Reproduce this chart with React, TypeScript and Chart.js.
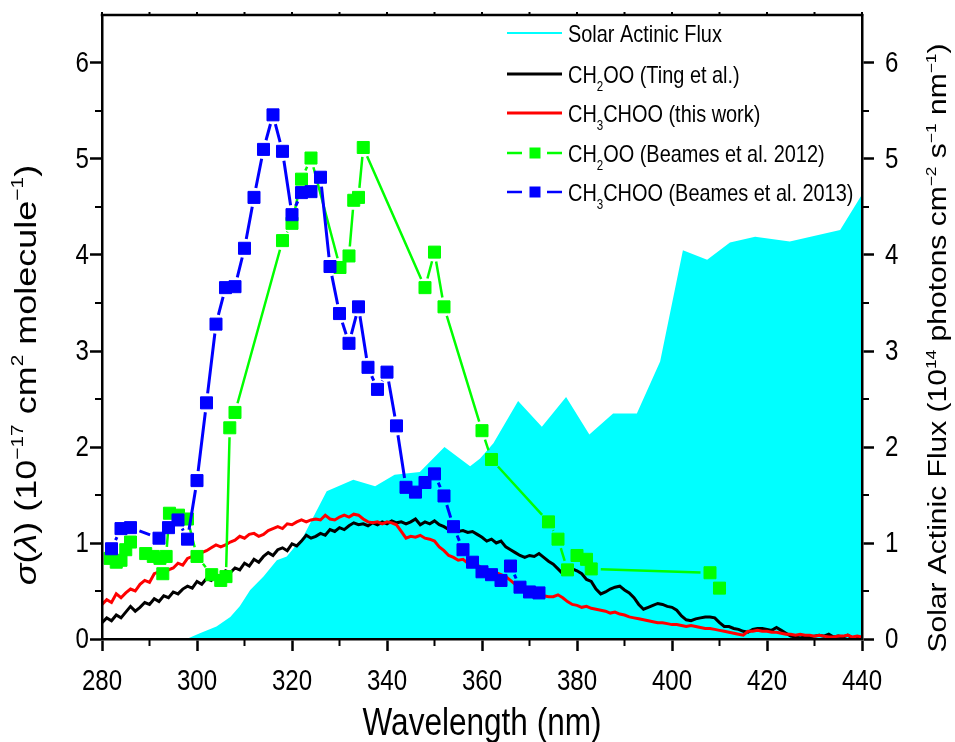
import { useEffect, useRef } from 'react';
import { Chart, registerables } from 'chart.js';

Chart.register(...registerables);

const FONT = '"Liberation Sans", Arial, Helvetica, sans-serif';
const SQUEEZE = 0.83; // horizontal condensing applied to every text run

// ---- axes ----
const xTicks = [280, 300, 320, 340, 360, 380, 400, 420, 440];
const xMinorTicks = [290, 310, 330, 350, 370, 390, 410, 430];
const yTicks = [0, 1, 2, 3, 4, 5, 6];
const yMinorTicks = [0.5, 1.5, 2.5, 3.5, 4.5, 5.5];

// ---- 1 nm spectra, 280–440 nm ----
const spectrumStart = 280;
const spectrumStep = 1;

// CH2OO cross section (Ting et al.)
const tingSigma = [
  0.17, 0.22, 0.19, 0.25, 0.22, 0.28, 0.34, 0.29, 0.33, 0.38,
  0.36, 0.42, 0.39, 0.45, 0.43, 0.49, 0.47, 0.52, 0.55, 0.53,
  0.60, 0.57, 0.63, 0.61, 0.67, 0.65, 0.71, 0.69, 0.74, 0.72,
  0.79, 0.76, 0.83, 0.80, 0.86, 0.90, 0.87, 0.93, 0.95, 0.92,
  0.99, 0.97, 1.02, 1.08, 1.05, 1.07, 1.10, 1.08, 1.14, 1.12,
  1.16, 1.14, 1.18, 1.21, 1.19, 1.20, 1.18, 1.21, 1.19, 1.22,
  1.20, 1.23, 1.21, 1.22, 1.20, 1.22, 1.25, 1.19, 1.22, 1.20,
  1.23, 1.19, 1.17, 1.14, 1.16, 1.12, 1.13, 1.11, 1.12, 1.09,
  1.06, 1.02, 1.04, 1.00, 1.02, 0.96, 0.93, 0.90, 0.87, 0.85,
  0.87, 0.86, 0.89, 0.85, 0.81, 0.78, 0.73, 0.68, 0.70, 0.73,
  0.71, 0.68, 0.62, 0.60, 0.52, 0.47, 0.49, 0.52, 0.54, 0.55,
  0.51, 0.48, 0.43, 0.36, 0.31, 0.33, 0.35, 0.37, 0.36, 0.34,
  0.33, 0.30, 0.24, 0.20, 0.19, 0.21, 0.22, 0.23, 0.23, 0.22,
  0.17, 0.13, 0.13, 0.11, 0.10, 0.08, 0.07, 0.10, 0.11, 0.11,
  0.10, 0.09, 0.12, 0.09, 0.06, 0.03, 0.02, 0.01, 0.02, 0.02,
  0.03, 0.04, 0.03, 0.05, 0.02, 0.03, 0.02, 0.04, 0.01, 0.02,
  0.01,
];

// CH3CHOO cross section (this work)
const thisWorkSigma = [
  0.36, 0.41, 0.38, 0.47, 0.43, 0.48, 0.52, 0.50, 0.57, 0.61,
  0.59, 0.68, 0.70, 0.67, 0.72, 0.74, 0.79, 0.77, 0.84, 0.86,
  0.85, 0.90, 0.92, 0.95, 0.98, 0.96, 0.98, 1.01, 1.03, 1.07,
  1.05, 1.09, 1.10, 1.07, 1.09, 1.13, 1.15, 1.17, 1.15, 1.20,
  1.19, 1.22, 1.24, 1.22, 1.24, 1.25, 1.24, 1.29, 1.25, 1.24,
  1.27, 1.29, 1.27, 1.30, 1.29, 1.25, 1.22, 1.21, 1.22, 1.20,
  1.22, 1.21, 1.19, 1.12, 1.05, 1.07, 1.06, 1.08, 1.05, 1.04,
  1.02, 0.96, 0.92, 0.87, 0.85, 0.82, 0.83, 0.79, 0.80, 0.77,
  0.74, 0.73, 0.70, 0.69, 0.67, 0.65, 0.61, 0.57, 0.52, 0.50,
  0.48, 0.47, 0.45, 0.45, 0.44, 0.44, 0.46, 0.43, 0.39, 0.36,
  0.35, 0.33, 0.34, 0.32, 0.31, 0.30, 0.29, 0.27, 0.28, 0.26,
  0.25, 0.23, 0.22, 0.21, 0.20, 0.19, 0.18, 0.17, 0.17, 0.16,
  0.15, 0.15, 0.14, 0.13, 0.14, 0.13, 0.12, 0.11, 0.11, 0.10,
  0.09, 0.08, 0.07, 0.06, 0.05, 0.04, 0.08, 0.08, 0.09, 0.08,
  0.08, 0.07, 0.07, 0.06, 0.05, 0.05, 0.04, 0.05, 0.04, 0.04,
  0.03, 0.04, 0.03, 0.02, 0.02, 0.03, 0.03, 0.04, 0.02, 0.03,
  0.02,
];

// CH2OO (Beames et al. 2012)
const beames2012Wl = [
  281.7, 283.0, 284.0, 285.0, 286.0, 289.2, 290.8, 292.2, 292.8, 293.5,
  294.2, 296.1, 298.0, 300.0, 303.1, 305.0, 306.1, 306.9, 308.0, 318.0,
  320.0, 322.0, 324.0, 330.1, 332.0, 333.0, 334.0, 335.0, 348.0, 350.0,
  352.0, 360.0, 362.0, 374.0, 376.0, 378.0, 380.0, 382.0, 383.0, 408.0,
  410.0,
];
const beames2012Sigma = [
  0.84, 0.80, 0.82, 0.93, 1.01, 0.89, 0.86, 0.84, 0.68, 0.86,
  1.31, 1.29, 1.25, 0.86, 0.67, 0.61, 0.65, 2.20, 2.36, 4.15,
  4.33, 4.79, 5.01, 3.87, 3.99, 4.57, 4.60, 5.12, 3.66, 4.03,
  3.46, 2.17, 1.87, 1.22, 1.04, 0.72, 0.87, 0.83, 0.73, 0.69,
  0.53,
];

// CH3CHOO (Beames et al. 2013)
const beames2013Wl = [
  282, 284, 286, 292, 294, 296, 298, 300, 302, 304,
  306, 308, 310, 312, 314, 316, 318, 320, 322, 324,
  326, 328, 330, 332, 334, 336, 338, 340, 342, 344,
  346, 348, 350, 352, 354, 356, 358, 360, 362, 364,
  366, 368, 370, 372,
];
const beames2013Sigma = [
  0.94, 1.15, 1.16, 1.05, 1.16, 1.24, 1.04, 1.65, 2.46, 3.28,
  3.66, 3.67, 4.07, 4.60, 5.10, 5.46, 5.08, 4.42, 4.65, 4.66,
  4.81, 3.88, 3.39, 3.08, 3.46, 2.83, 2.60, 2.78, 2.22, 1.58,
  1.53, 1.63, 1.72, 1.49, 1.17, 0.93, 0.80, 0.70, 0.67, 0.61,
  0.76, 0.54, 0.49, 0.48,
];

// Solar actinic flux (1e14 photons cm-2 s-1 nm-1)
const fluxWl = [
  280, 297.8, 300.6, 304.1, 307.0, 309.0, 311.2, 314.0, 316.8, 318.9,
  322.4, 327.3, 332.9, 337.5, 341.6, 346.9, 352.1, 357.5, 359.6, 362.4,
  367.6, 372.6, 377.7, 382.6, 387.6, 392.6, 397.5, 402.3, 407.4, 412.2,
  417.5, 424.8, 435.4, 440.0,
];
const fluxValue = [
  0, 0, 0.06, 0.13, 0.23, 0.34, 0.51, 0.65, 0.82, 0.86,
  1.07, 1.54, 1.66, 1.59, 1.71, 1.74, 2.00, 1.80, 1.88, 2.04,
  2.48, 2.21, 2.52, 2.13, 2.35, 2.35, 2.89, 4.05, 3.95, 4.13,
  4.19, 4.14, 4.26, 4.63,
];

const CYAN = '#00FFFF';
const GREEN = '#00FF00';
const BLUE = '#0000FF';
const RED = '#FF0000';
const BLACK = '#000000';

type Run = { t: string; k?: 'sub' | 'sup' | 'it' };

const legendItems: { runs: Run[]; color: string; width: number; marker: boolean }[] = [
  { runs: [{ t: 'Solar Actinic Flux' }], color: CYAN, width: 2, marker: false },
  { runs: [{ t: 'CH' }, { t: '2', k: 'sub' }, { t: 'OO (Ting et al.)' }], color: BLACK, width: 3, marker: false },
  { runs: [{ t: 'CH' }, { t: '3', k: 'sub' }, { t: 'CHOO (this work)' }], color: RED, width: 3, marker: false },
  { runs: [{ t: 'CH' }, { t: '2', k: 'sub' }, { t: 'OO (Beames et al. 2012)' }], color: GREEN, width: 2.5, marker: true },
  { runs: [{ t: 'CH' }, { t: '3', k: 'sub' }, { t: 'CHOO (Beames et al. 2013)' }], color: BLUE, width: 2.5, marker: true },
];

const xTitle: Run[] = [{ t: 'Wavelength (nm)' }];
const yTitle: Run[] = [
  { t: 'σ', k: 'it' }, { t: '(' }, { t: 'λ', k: 'it' }, { t: ') (10' }, { t: '−17', k: 'sup' },
  { t: ' cm' }, { t: '2', k: 'sup' }, { t: ' molecule' }, { t: '−1', k: 'sup' }, { t: ')' },
];
const y2Title: Run[] = [
  { t: 'Solar Actinic Flux (10' }, { t: '14', k: 'sup' }, { t: ' photons cm' }, { t: '−2', k: 'sup' },
  { t: ' s' }, { t: '−1', k: 'sup' }, { t: ' nm' }, { t: '−1', k: 'sup' }, { t: ')' },
];

function runFont(k: Run['k'], size: number) {
  const s = k === 'sub' || k === 'sup' ? size * 0.58 : size;
  return `${k === 'it' ? 'italic ' : ''}${s}px ${FONT}`;
}

function richWidth(ctx: CanvasRenderingContext2D, runs: Run[], size: number) {
  let w = 0;
  for (const r of runs) {
    ctx.font = runFont(r.k, size);
    w += ctx.measureText(r.t).width;
  }
  return w;
}

// Draws runs with an alphabetic baseline at (x,y), condensed horizontally on screen.
function drawRich(
  ctx: CanvasRenderingContext2D,
  runs: Run[],
  x: number,
  y: number,
  size: number,
  align: 'left' | 'center' | 'right',
  rotated = false,
) {
  ctx.save();
  ctx.translate(x, y);
  ctx.scale(SQUEEZE, 1);
  if (rotated) ctx.rotate(-Math.PI / 2);
  const w = richWidth(ctx, runs, size);
  let cx = align === 'left' ? 0 : align === 'center' ? -w / 2 : -w;
  ctx.textAlign = 'left';
  ctx.textBaseline = 'alphabetic';
  ctx.fillStyle = '#000';
  for (const r of runs) {
    ctx.font = runFont(r.k, size);
    const dy = r.k === 'sub' ? size * 0.36 : r.k === 'sup' ? -size * 0.42 : 0;
    ctx.fillText(r.t, cx, dy);
    cx += ctx.measureText(r.t).width;
  }
  ctx.restore();
}

function drawLabel(
  ctx: CanvasRenderingContext2D,
  text: string,
  x: number,
  y: number,
  size: number,
  align: CanvasTextAlign,
  baseline: CanvasTextBaseline,
) {
  ctx.save();
  ctx.translate(x, y);
  ctx.scale(SQUEEZE, 1);
  ctx.font = `${size}px ${FONT}`;
  ctx.fillStyle = '#000';
  ctx.textAlign = align;
  ctx.textBaseline = baseline;
  ctx.fillText(text, 0, 0);
  ctx.restore();
}

const MARKER_GAP = 9.5;

// Connecting segments that stop short of each square marker.
const gappedLines = {
  id: 'gappedLines',
  beforeDatasetDraw(chart: any, args: any) {
    const ds = chart.data.datasets[args.index];
    if (!ds.gapLine) return;
    const { ctx, chartArea } = chart;
    const pts = args.meta.data;
    ctx.save();
    ctx.beginPath();
    ctx.rect(chartArea.left, chartArea.top, chartArea.right - chartArea.left, chartArea.bottom - chartArea.top);
    ctx.clip();
    ctx.strokeStyle = ds.gapLine.color;
    ctx.lineWidth = ds.gapLine.width;
    ctx.lineCap = 'butt';
    ctx.beginPath();
    for (let i = 0; i < pts.length - 1; i++) {
      const a = pts[i];
      const b = pts[i + 1];
      const dx = b.x - a.x;
      const dy = b.y - a.y;
      const len = Math.hypot(dx, dy);
      if (len <= 2 * MARKER_GAP + 0.5) continue;
      const ux = dx / len;
      const uy = dy / len;
      ctx.moveTo(a.x + ux * MARKER_GAP, a.y + uy * MARKER_GAP);
      ctx.lineTo(b.x - ux * MARKER_GAP, b.y - uy * MARKER_GAP);
    }
    ctx.stroke();
    ctx.restore();
  },
};

// Tick labels, minor ticks, frame top, axis titles and the legend.
const decorations = {
  id: 'decorations',
  afterDraw(chart: any) {
    const { ctx, chartArea, scales } = chart;
    const { left, right, top, bottom } = chartArea;
    const xs = scales.x;
    const ys = scales.y;
    const y2s = scales.y2;

    ctx.save();
    ctx.strokeStyle = '#000';
    ctx.lineWidth = 2.5;
    ctx.beginPath();
    ctx.moveTo(left - 1.25, top);
    ctx.lineTo(right + 1.25, top);
    ctx.stroke();

    ctx.lineWidth = 2;
    ctx.beginPath();
    for (const v of xMinorTicks) {
      const px = xs.getPixelForValue(v);
      ctx.moveTo(px, bottom);
      ctx.lineTo(px, bottom + 7);
    }
    for (const v of [...xTicks, ...xMinorTicks]) {
      const px = xs.getPixelForValue(v);
      ctx.moveTo(px, top);
      ctx.lineTo(px, top - 3);
    }
    for (const v of yMinorTicks) {
      const py = ys.getPixelForValue(v);
      ctx.moveTo(left, py);
      ctx.lineTo(left - 7, py);
      const py2 = y2s.getPixelForValue(v);
      ctx.moveTo(right, py2);
      ctx.lineTo(right + 7, py2);
    }
    ctx.stroke();
    ctx.restore();

    for (const v of xTicks) {
      drawLabel(ctx, String(v), xs.getPixelForValue(v), bottom + 51, 29, 'center', 'alphabetic');
    }
    for (const v of yTicks) {
      drawLabel(ctx, String(v), left - 13, ys.getPixelForValue(v) + 1, 29, 'right', 'middle');
      drawLabel(ctx, String(v), right + 23, y2s.getPixelForValue(v) + 1, 29, 'left', 'middle');
    }

    drawRich(ctx, xTitle, (left + right) / 2, 735, 38, 'center');
    drawRich(ctx, yTitle, 36, 375, 36, 'center', true);
    drawRich(ctx, y2Title, 946, 348, 30, 'center', true);

    const rows = [33, 74, 113, 153, 192];
    legendItems.forEach((item, i) => {
      const y = rows[i];
      ctx.save();
      ctx.strokeStyle = item.color;
      ctx.lineWidth = item.width;
      ctx.beginPath();
      if (item.marker) {
        ctx.moveTo(507, y);
        ctx.lineTo(522, y);
        ctx.moveTo(547, y);
        ctx.lineTo(562, y);
      } else {
        ctx.moveTo(507, y);
        ctx.lineTo(562, y);
      }
      ctx.stroke();
      if (item.marker) {
        ctx.fillStyle = item.color;
        ctx.fillRect(529.5, y - 5.5, 11, 11);
      }
      ctx.restore();
      drawRich(ctx, item.runs, 568, y + 8.5, 24, 'left');
    });
  },
};

export default function App() {
  const canvasRef = useRef<HTMLCanvasElement | null>(null);

  useEffect(() => {
    const canvas = canvasRef.current;
    if (!canvas) return;

    const spectrum = (vals: number[]) =>
      vals.map((y, i) => ({ x: spectrumStart + i * spectrumStep, y }));
    const pairs = (xsArr: number[], ysArr: number[]) => xsArr.map((x, i) => ({ x, y: ysArr[i] }));

    const axisCommon = {
      type: 'linear' as const,
      grid: {
        drawOnChartArea: false,
        drawTicks: true,
        tickLength: 12,
        tickWidth: 2.5,
        tickColor: '#000',
      },
      border: { display: true, color: '#000', width: 2.5, z: 1 },
    };

    const chart = new Chart(canvas, {
      type: 'line',
      data: {
        datasets: [
          {
            label: 'Solar Actinic Flux',
            data: pairs(fluxWl, fluxValue),
            yAxisID: 'y2',
            backgroundColor: CYAN,
            borderColor: CYAN,
            borderWidth: 0,
            pointRadius: 0,
            fill: 'origin',
            tension: 0,
            order: 5,
          },
          {
            label: 'CH2OO (Ting et al.)',
            data: spectrum(tingSigma),
            yAxisID: 'y',
            borderColor: BLACK,
            borderWidth: 3,
            pointRadius: 0,
            fill: false,
            tension: 0,
            order: 4,
          },
          {
            label: 'CH3CHOO (this work)',
            data: spectrum(thisWorkSigma),
            yAxisID: 'y',
            borderColor: RED,
            borderWidth: 3,
            pointRadius: 0,
            fill: false,
            tension: 0,
            order: 3,
          },
          {
            label: 'CH2OO (Beames et al. 2012)',
            data: pairs(beames2012Wl, beames2012Sigma),
            yAxisID: 'y',
            showLine: false,
            pointStyle: 'rect',
            pointRadius: 8.5,
            backgroundColor: GREEN,
            borderColor: GREEN,
            borderWidth: 1,
            gapLine: { color: GREEN, width: 2.5 },
            order: 2,
          } as any,
          {
            label: 'CH3CHOO (Beames et al. 2013)',
            data: pairs(beames2013Wl, beames2013Sigma),
            yAxisID: 'y',
            showLine: false,
            pointStyle: 'rect',
            pointRadius: 8.5,
            backgroundColor: BLUE,
            borderColor: BLUE,
            borderWidth: 1,
            gapLine: { color: BLUE, width: 3 },
            order: 1,
          } as any,
        ],
      },
      options: {
        responsive: false,
        animation: false,
        devicePixelRatio: 1,
        events: [],
        layout: { padding: { top: 15, left: 0, right: 0, bottom: 0 } },
        plugins: {
          legend: { display: false },
          tooltip: { enabled: false },
        },
        scales: {
          x: {
            ...axisCommon,
            position: 'bottom',
            min: 280,
            max: 440,
            ticks: { display: false, stepSize: 20 },
            afterFit: (s: any) => {
              s.height = 103;
            },
          },
          y: {
            ...axisCommon,
            position: 'left',
            min: 0,
            max: 6.5,
            ticks: { display: false, stepSize: 1, includeBounds: false },
            afterFit: (s: any) => {
              s.width = 102;
            },
          },
          y2: {
            ...axisCommon,
            position: 'right',
            min: 0,
            max: 6.5,
            ticks: { display: false, stepSize: 1, includeBounds: false },
            afterFit: (s: any) => {
              s.width = 93;
            },
          },
        },
      } as any,
      plugins: [gappedLines, decorations],
    });

    return () => chart.destroy();
  }, []);

  return (
    <div style={{ position: 'fixed', left: 0, top: 0, width: 955, height: 742, background: '#fff' }}>
      <canvas ref={canvasRef} width={955} height={742} style={{ display: 'block' }} />
    </div>
  );
}
